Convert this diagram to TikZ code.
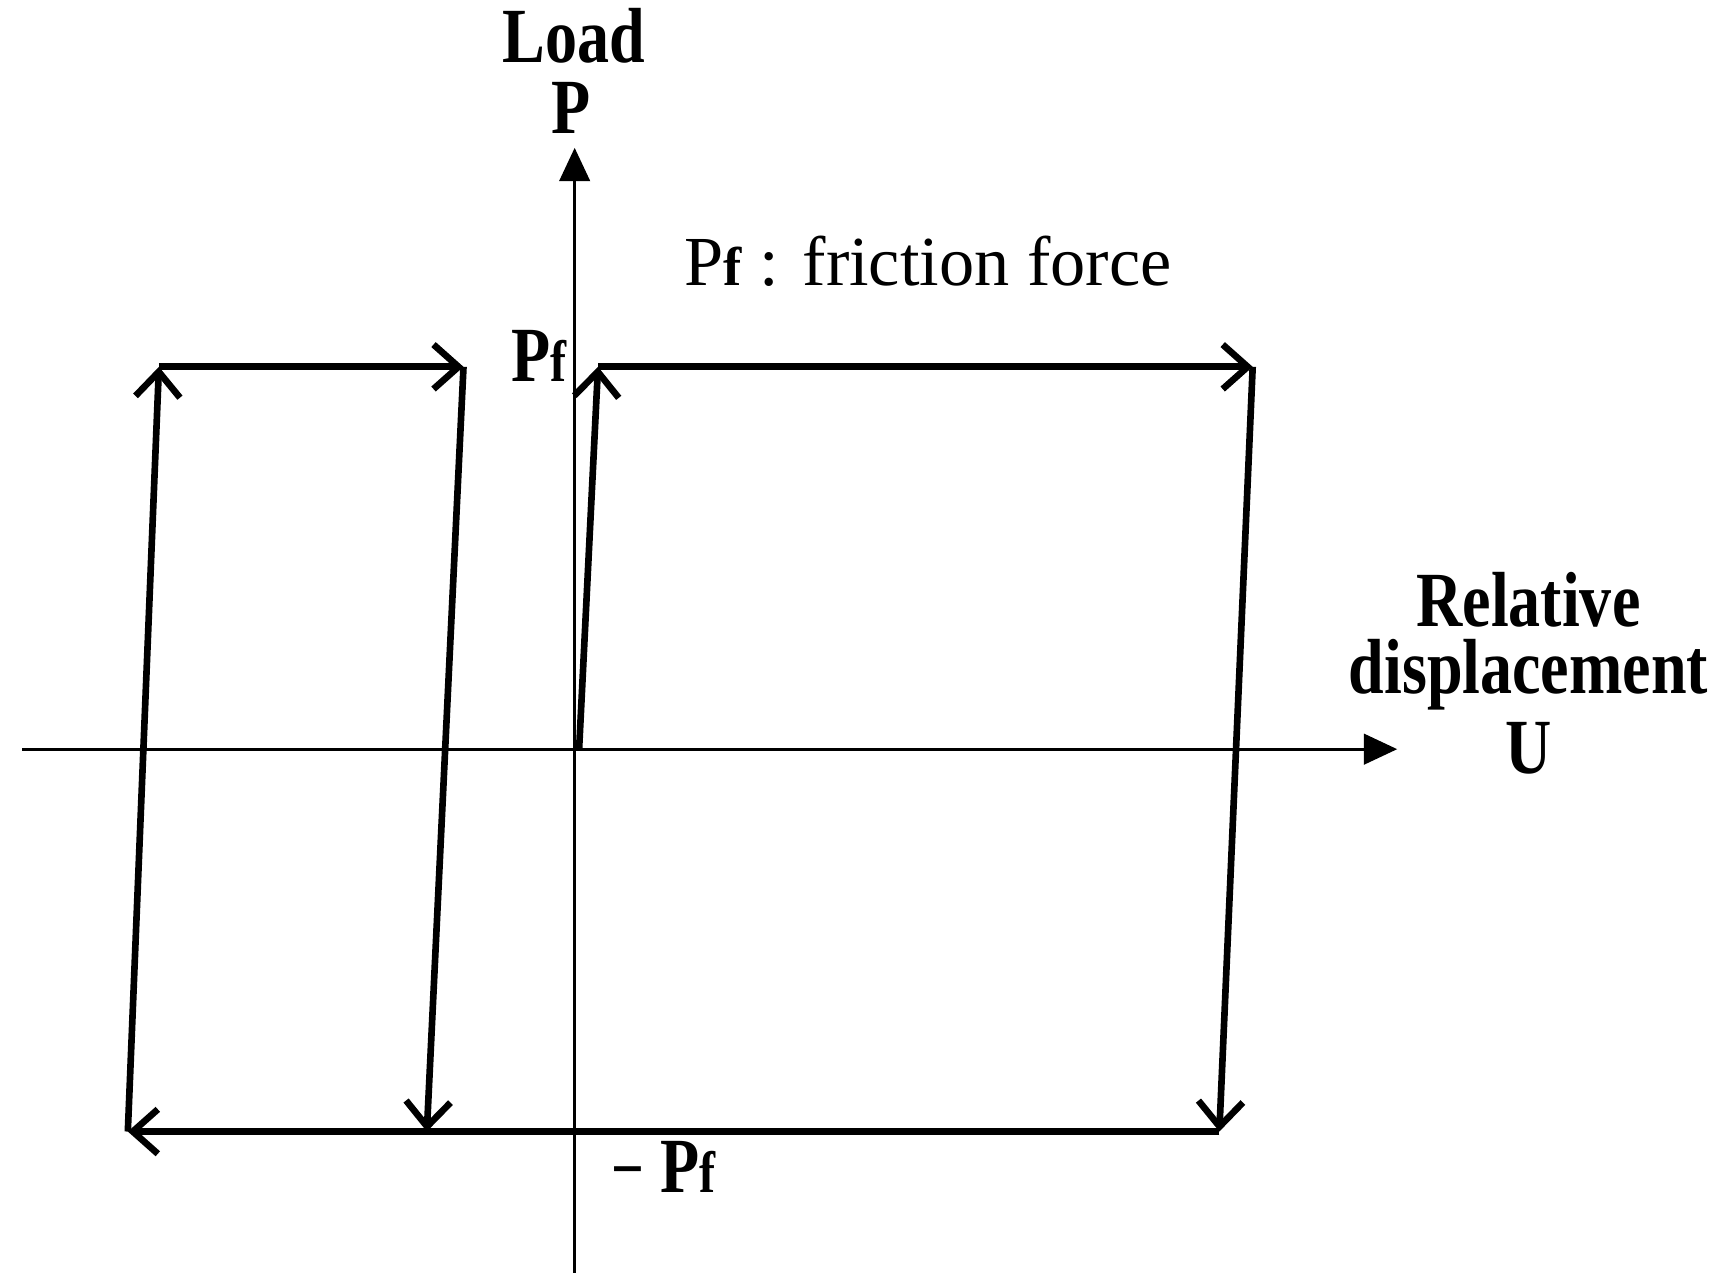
\documentclass[tikz,border=0pt]{standalone}
\usepackage{fontspec}
\setmainfont{Liberation Serif}
\usetikzlibrary{arrows.meta}
\newcommand{\cond}[1]{\scalebox{0.82}[1]{#1}}
\begin{document}
\begin{tikzpicture}[x=0.02cm,y=-0.02cm,
  axis/.style={line width=1.4pt,-{Triangle[length=0.6cm,width=0.55cm]}},
  loop/.style={line width=3.4pt,-{Straight Barb[length=0.45cm,width=0.8cm,line width=3.4pt]}},
  lbl/.style={font=\fontsize{40}{44}\selectfont\bfseries,inner sep=0pt,align=center},
  note/.style={font=\fontsize{36}{40}\selectfont,inner sep=0pt}]
\useasboundingbox (0,0) rectangle (1560,1156);
\coordinate (xs) at (20,674); \coordinate (xe) at (1257,674);
\coordinate (ys) at (517,1145); \coordinate (ye) at (517,133);
\draw[axis] (xs) -- (xe);
\draw[axis] (ys) -- (ye);
\coordinate (o) at (521,674);
\coordinate (a) at (538,330); \coordinate (b) at (1127,330);
\coordinate (c) at (1097,1018); \coordinate (d) at (115,1018);
\coordinate (e) at (143,330); \coordinate (f) at (417,330);
\coordinate (g) at (384,1018);
\draw[loop] (o) -- (a);
\draw[loop] (a) -- (b);
\draw[loop] (b) -- (c);
\draw[loop] (c) -- (d);
\draw[loop] (d) -- (e);
\draw[loop] (e) -- (f);
\draw[loop] (f) -- (g);
\node[lbl] (load) at (516,32) {\cond{Load}};
\node[lbl] (p) at (514,97) {\cond{P}};
\node[lbl] (pf) at (485,320) {\cond{P{\fontsize{30}{30}\selectfont f}}};
\node[note] (fr) at (835,235) {P{\fontsize{28}{28}\selectfont\bfseries f} : friction force};
\node[lbl] (rel) at (1375,540) {\cond{Relative}};
\node[lbl] (disp) at (1375,607) {\cond{displacement}};
\node[lbl] (u) at (1375,673) {\cond{U}};
\node[lbl] (mpf) at (597,1050) {\cond{{\fontsize{36}{36}\selectfont\textminus} P{\fontsize{30}{30}\selectfont f}}};
\end{tikzpicture}
\end{document}
